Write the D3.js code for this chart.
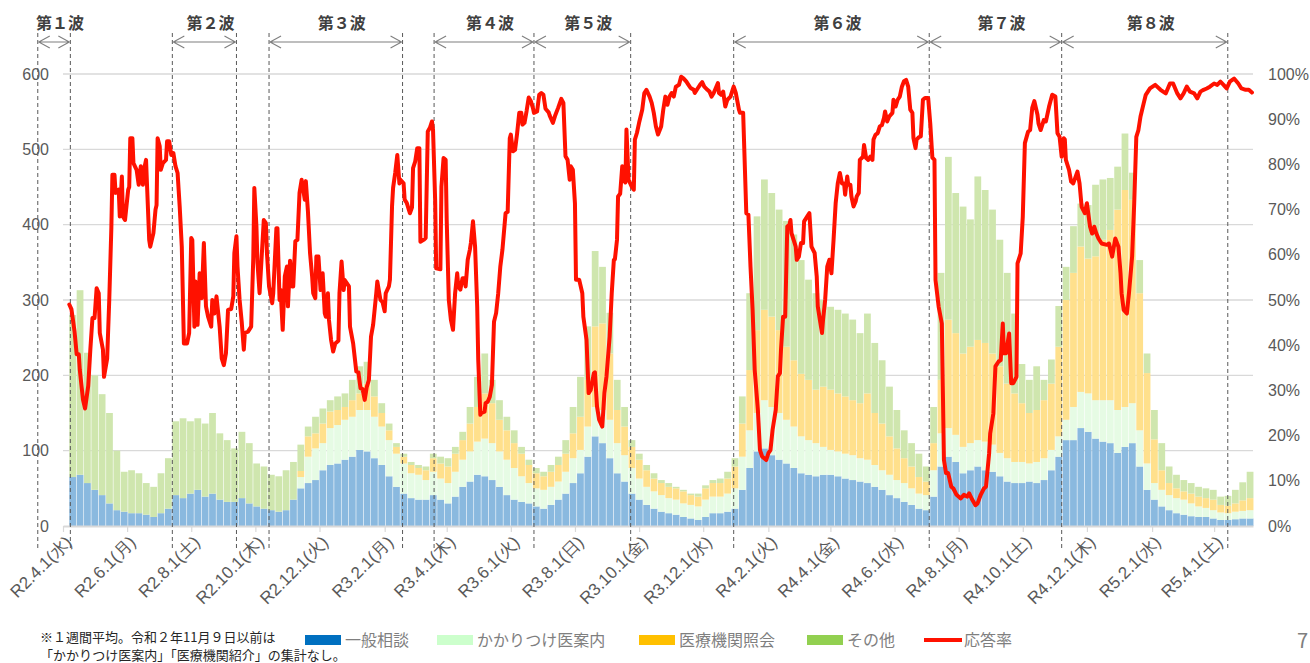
<!DOCTYPE html>
<html>
<head>
<meta charset="utf-8">
<script src="https://cdn.jsdelivr.net/npm/d3@7"></script>
<style>
  body { margin: 0; background: #fff; }
  svg { display: block; font-family: "Noto Sans CJK JP", "Noto Sans", sans-serif; }
</style>
</head>
<body>
<svg id="chart" width="1310" height="663"></svg>
<script>
// ---- data -------------------------------------------------------------
// weekly bars (1-week averages), first week starting 2020-04-07
const firstWeek = "2020-04-07";

const general = [
  65,68,57,48,41,30,21,19,17,17,15,12,17,23,41,37,43,48,39,43,35,32,32,37,30,26,23,21,19,21,35,
  50,57,61,74,81,83,88,92,101,99,
  90,81,66,52,43,37,35,35,41,35,
  30,39,52,59,68,66,61,52,41,35,
  32,30,26,23,28,35,43,57,70,92,
  119,110,90,70,59,43,35,28,23,19,
  17,15,12,10,8,12,17,17,19,23,
  48,77,99,103,94,88,83,77,70,68,
  66,68,68,66,63,61,59,57,52,48,
  41,37,32,28,23,21,39,79,92,85,
  70,74,79,74,72,66,59,57,57,59,
  57,61,74,92,114,114,130,125,116,112,
  110,97,105,110,79,48,35,26,21,17,
  15,13,12,12,10,8,8,9,10,10
];

const gpGuide = [
  0,0,0,0,0,0,0,0,0,0,0,0,0,0,0,0,0,0,0,0,0,0,0,0,0,0,0,0,0,0,0,
  15,35,42,36,49,51,53,53,53,55,
  55,51,48,44,40,33,33,26,31,28,
  27,33,36,40,44,50,49,47,47,42,
  34,27,24,25,24,24,29,33,31,40,
  39,44,51,40,35,34,28,24,23,22,
  20,20,18,18,18,23,22,22,24,27,
  44,50,51,64,64,62,58,55,49,46,
  44,37,33,33,33,33,31,31,29,26,
  27,24,25,22,20,20,35,44,38,36,
  35,36,35,38,36,31,31,28,28,24,
  28,29,27,27,27,44,48,51,51,55,
  57,57,53,53,48,35,22,22,20,20,
  20,17,14,12,11,10,9,10,10,11
];

const hospital = [
  0,0,0,0,0,0,0,0,0,0,0,0,0,0,0,0,0,0,0,0,0,0,0,0,0,0,0,0,0,0,0,
  8,27,20,26,22,20,17,22,22,35,
  27,18,13,9,9,11,9,13,18,20,
  22,24,26,37,46,60,53,42,39,33,
  30,24,20,18,20,22,24,33,44,62,
  107,115,88,44,38,28,25,22,17,16,
  15,15,16,13,13,15,18,18,20,29,
  44,80,110,120,120,110,97,88,83,80,
  71,80,80,77,76,73,73,88,69,62,
  51,42,33,29,22,18,36,71,144,135,
  124,128,133,131,121,115,99,91,78,67,
  69,77,88,119,159,178,193,179,191,213,
  226,266,288,270,182,120,58,26,16,13,
  11,13,13,13,14,10,10,11,14,16
];

const other = [
  215,245,173,152,134,120,79,53,57,53,42,40,53,67,98,106,96,95,97,107,88,82,71,88,80,57,56,47,47,53,50,
  35,13,22,20,15,18,18,27,36,29,
  22,13,9,5,4,4,4,5,6,9,
  11,9,11,22,40,53,31,26,18,17,
  9,7,7,6,9,11,18,35,53,71,
  100,75,54,40,26,9,8,7,7,4,
  5,2,2,2,4,4,4,6,9,11,
  36,102,151,173,164,160,167,167,151,133,
  128,115,110,111,110,107,93,106,93,84,
  66,51,37,31,31,20,48,142,216,186,
  195,169,217,203,191,168,147,106,52,44,
  58,27,32,54,44,62,57,71,95,80,
  69,57,75,36,44,26,39,36,22,18,
  15,14,13,13,13,11,13,18,24,35
];

// answer rate (%), as [days since 2020-04-01, rate]
const answerRate = [
  [6,49],[8,48],[11,43],[13,38],[15,38],[16,34.5],[19,28],[21,26],[24,31],[26,39],
  [28,46],[30,46],[32,52.6],[34,51.5],[35,42.7],[38,39],[39,33],[42,37],[44,50],[46,66],
  [47,77.7],[49,77.7],[50,73.7],[53,74.4],[54,68.5],[56,77.3],[57,68.5],[59,67.7],[62,74.4],[63,75],
  [64,85.8],[66,85.8],[67,80.3],[70,78.8],[72,75.5],[74,79.6],[76,75.5],[77,78.8],[79,81],[80,75],
  [82,63.3],[83,61.8],[86,64.8],[88,70],[89,71],[90,85.8],[92,84],[93,78.8],[95,80.3],[98,81],
  [99,85.1],[101,85.1],[103,82.1],[105,82.5],[107,79.6],[109,78.1],[111,70.7],[113,61.8],[115,40.4],[118,40.4],
  [120,42.7],[122,63.7],[123,63.3],[125,44.1],[126,54.1],[128,44.5],[130,55.9],[132,50.4],[134,62.6],[136,48.6],
  [138,46.3],[141,44.1],[142,50],[144,47],[146,50.8],[149,44.1],[151,37.1],[153,35.6],[155,38.2],[157,47.8],
  [160,48],[162,50.8],[163,60.4],[165,64.1],[166,57.4],[168,50],[170,45.2],[172,39],[173,42.7],[176,43],
  [179,44.1],[181,59.3],[182,74.8],[184,66.3],[185,58.2],[187,51.5],[189,59.6],[191,67.7],[193,67],[194,60.4],
  [196,53],[199,49.3],[200,51.5],[203,65.9],[204,65.9],[206,50],[207,52.2],[209,43.4],[211,55.2],[213,57.4],
  [214,48.6],[216,58.7],[218,53],[219,53],[221,63],[223,63.3],[225,73.7],[227,76.6],[230,72.2],[231,76.3],
  [233,69.6],[235,60.4],[237,55.2],[238,51.5],[240,50.4],[241,59.6],[243,59.6],[245,52.2],[247,55.9],[249,47.1],
  [250,46.3],[252,51.5],[253,45.6],[255,41.2],[257,38.6],[259,40.4],[262,41],[263,51.5],[265,58.5],[267,52.2],
  [268,54.4],[272,53],[273,44.1],[276,40.4],[279,34.2],[281,34],[283,30.5],[285,30.3],[287,27.9],[289,30.8],
  [291,32.3],[293,41.9],[295,44.5],[298,51.5],[299,54.1],[302,50],[304,49.5],[306,47.5],[307,51.5],[310,53],
  [311,54.5],[313,70.7],[314,74.8],[316,78.1],[318,82.1],[320,75.8],[321,76.6],[324,75.8],[325,72.2],[327,71.5],
  [330,69.2],[332,70.5],[333,79.2],[335,80.6],[337,83.6],[339,83.6],[340,62.9],[343,63.3],[345,63.7],[347,87.3],
  [349,88.1],[351,89.5],[352,87.6],[354,72.2],[355,57],[359,56.8],[360,75.1],[362,81.4],[364,81],[365,67.7],
  [367,50],[369,45.6],[371,43.4],[373,51.5],[375,55.9],[376,53],[378,52.3],[380,54.8],[382,54.8],[383,53],
  [385,58.9],[387,61.1],[388,62.6],[390,67.4],[392,61.8],[394,48.6],[395,36.8],[397,24.6],[398,25],[401,25.3],
  [402,27.2],[404,27.5],[406,28.6],[408,31.2],[410,45.2],[412,47.1],[414,51.5],[416,57.4],[418,61.1],[421,69.2],
  [423,69.5],[425,85.8],[426,86.6],[428,82.9],[430,83.2],[432,86.9],[434,91.4],[436,91.4],[437,88.8],[439,89.2],
  [441,91.8],[443,94.8],[445,94],[447,92.5],[448,91.4],[451,91.7],[453,95.4],[455,95.8],[457,95.4],[459,92.3],
  [462,91.5],[463,90.8],[466,89.2],[468,90.7],[471,92.5],[474,94.5],[476,93.6],[478,81.8],[480,81],[482,76.6],
  [483,79.6],[485,78.8],[487,71.4],[488,54.5],[491,54.5],[494,51.5],[495,46.3],[498,41.2],[500,29.4],[502,30.1],
  [505,33.8],[506,34],[508,26.4],[510,23.5],[513,22],[515,29.4],[517,33.1],[520,41.9],[522,51.5],[524,58.9],
  [525,59],[527,63.3],[528,72.9],[530,73.5],[532,79.6],[533,76.6],[535,76],[536,87.7],[538,76.6],[541,75.1],
  [543,74.4],[544,85.5],[546,87],[548,89.2],[551,92.1],[553,95.8],[555,96.5],[558,95],[560,93.6],[562,91.4],
  [564,88.4],[566,86.6],[569,88.4],[571,92.1],[573,95],[575,93.2],[577,95],[579,95.8],[581,95],[583,97.2],
  [586,97.6],[588,99.4],[590,99.1],[593,98.3],[595,97.6],[597,96.9],[600,96.5],[601,95.8],[604,96.9],[606,97.6],
  [608,98.2],[610,97.2],[613,96.5],[615,96.1],[617,95],[619,95.8],[621,96.9],[623,98],[624,95.8],[626,95.4],
  [628,96.1],[630,92.8],[632,94.3],[635,95],[637,96.5],[638,97.2],[640,95.8],[643,92.1],[644,91.4],[647,91.4],
  [650,69.2],[652,68.9],[654,57.4],[656,47.8],[658,34.5],[661,25.7],[663,16.8],[665,15.4],[667,15],[669,14.6],
  [671,16.1],[673,16.8],[675,21.3],[678,25.7],[680,33.1],[682,33.8],[683,39],[685,46.3],[687,46.3],[689,66.3],
  [691,66.6],[692,67.7],[693,64.8],[695,63.3],[697,61.8],[698,58.9],[700,59.6],[702,62.6],[704,62.6],[705,67.4],
  [708,68.5],[710,69.2],[712,61.8],[715,60.4],[717,55.2],[718,48.6],[720,45.6],[722,42.7],[723,45.6],[725,50],
  [727,57.4],[729,58.9],[731,55.9],[733,63.3],[735,71.4],[737,75.8],[739,78.1],[741,75.8],[743,75.8],[744,73.3],
  [746,77.3],[747,75.5],[749,75.5],[750,72.9],[752,70.7],[754,71.8],[755,72.9],[757,73.7],[758,81],[761,81.7],
  [762,84.3],[764,81.4],[766,81],[768,81.7],[770,81],[771,85.5],[773,86.6],[775,86.9],[777,88.4],[779,88.7],
  [781,90.3],[782,91.7],[784,89.5],[786,90.6],[789,91.4],[790,94.3],[792,92.8],[794,94.3],[796,95],[798,97.2],
  [800,98.4],[802,98.7],[804,97.2],[806,92.1],[808,91.4],[809,85.8],[811,83.6],[812,85.5],[814,86],[816,86.2],
  [818,94.3],[820,94.7],[823,94.7],[825,89],[827,81.5],[829,81],[830,54.4],[833,48.5],[836,44.8],[838,14.6],
  [840,11.7],[842,11.7],[845,8.7],[847,8.3],[850,6.9],[854,6.1],[857,6.9],[860,6.5],[862,7.2],[865,5.8],
  [868,4.6],[870,5],[873,6.9],[876,8.3],[878,8.7],[881,16.1],[882,20.5],[885,24.9],[887,35.3],[890,36.4],
  [892,36.7],[894,44.8],[895,38.2],[897,38.2],[900,42.6],[902,31.6],[904,31.6],[907,33],[908,58.1],[911,60.3],
  [913,68.4],[915,84.7],[918,87.2],[920,87.6],[922,92.5],[924,94],[927,91],[928,89],[930,87.6],[933,89.8],
  [935,89.5],[938,92.8],[941,95.4],[944,95],[946,86.9],[948,86.1],[950,81.7],[952,85.8],[953,85.5],[954,81],
  [957,78.8],[959,76.2],[961,75.8],[965,78.4],[967,75.8],[969,70.6],[972,69.2],[974,71.4],[977,66.2],[979,64.7],
  [981,66.2],[983,64.7],[985,63.6],[988,62.5],[993,62.2],[995,62.5],[998,59.6],[1001,63.6],[1004,61.8],[1006,55.9],
  [1007,51.5],[1009,47.8],[1012,47],[1014,51.5],[1017,59.6],[1019,71.4],[1021,86.1],[1023,87.6],[1025,90.6],[1028,93.5],
  [1030,95.4],[1034,96.8],[1039,97.6],[1044,96.5],[1049,95.7],[1053,97.9],[1056,97.9],[1060,95.7],[1063,94.6],[1066,95.7],
  [1069,97.2],[1072,96.1],[1076,95.7],[1079,94.6],[1082,96.1],[1085,96.5],[1088,96.8],[1091,97.2],[1095,97.9],[1098,97.6],
  [1101,98.3],[1104,97.6],[1107,96.8],[1110,98.3],[1114,99],[1118,97.9],[1121,96.8],[1125,96.5],[1128,96.5],[1131,95.9]
];

const seriesNames = ["一般相談", "かかりつけ医案内", "医療機関照会", "その他"];
const rateName = "応答率";
const leftTicks = [0, 100, 200, 300, 400, 500, 600];
const rightTicks = [0, 10, 20, 30, 40, 50, 60, 70, 80, 90, 100];
const tickLabels = ["R2.4.1(水)", "R2.6.1(月)", "R2.8.1(土)", "R2.10.1(木)", "R2.12.1(火)", "R3.2.1(月)",
  "R3.4.1(木)", "R3.6.1(火)", "R3.8.1(日)", "R3.10.1(金)", "R3.12.1(水)", "R4.2.1(火)", "R4.4.1(金)",
  "R4.6.1(水)", "R4.8.1(月)", "R4.10.1(土)", "R4.12.1(木)", "R5.2.1(水)", "R5.4.1(土)"];

const waveNames = ["第１波", "第２波", "第３波", "第４波", "第５波", "第６波", "第７波", "第８波"];
const waveStart = ["2020-03-08", "2020-07-14", "2020-10-14", "2021-03-20", "2021-06-23", "2021-12-30", "2022-07-04", "2022-11-07"];
const waveEnd   = ["2020-04-08", "2020-09-13", "2021-02-18", "2021-06-23", "2021-09-23", "2022-07-04", "2022-11-07", "2023-04-14"];

const noteLines = ["※１週間平均。令和２年11月９日以前は", "「かかりつけ医案内」「医療機関紹介」の集計なし。"];

// ---- layout ------------------------------------------------------------
const svg = d3.select("#chart");
const plot = { left: 63, right: 1253, top: 74, bottom: 526 };
const parse = d3.timeParse("%Y-%m-%d");
const origin = new Date(2020, 3, 1);
const dayDate = d => d3.timeDay.offset(origin, d);

const x = d3.scaleTime()
  .domain([origin, new Date(2023, 4, 8)])
  .range([plot.left, plot.right]);
const yL = d3.scaleLinear().domain([0, 600]).range([plot.bottom, plot.top]);
const yR = d3.scaleLinear().domain([0, 100]).range([plot.bottom, plot.top]);

const fills = ["#8ab9df", "#e6fbe4", "#ffe08c", "#cfe6ae"];
const swatch = ["#0070c0", "#ccffcc", "#ffc000", "#92d050"];
const textGray = "#595959";

// gridlines
svg.append("g").selectAll("line").data(leftTicks.slice(1)).join("line")
  .attr("x1", plot.left).attr("x2", plot.right)
  .attr("y1", d => yL(d)).attr("y2", d => yL(d))
  .attr("stroke", "#d9d9d9").attr("stroke-width", 1.3);

// stacked weekly bars
const start = parse(firstWeek);
const rows = general.map((g, i) => ({
  date: d3.timeDay.offset(start, 7 * i),
  general: g, gp: gpGuide[i] || 0, hosp: hospital[i] || 0, other: other[i] || 0
}));
const layers = d3.stack().keys(["general", "gp", "hosp", "other"])(rows);
const barG = svg.append("g");
layers.forEach((layer, k) => {
  barG.append("g").attr("fill", fills[k]).selectAll("rect").data(layer).join("rect")
    .attr("x", d => x(d.data.date))
    .attr("width", d => Math.max(0, x(d3.timeDay.offset(d.data.date, 7)) - x(d.data.date) - 0.6))
    .attr("y", d => yL(d[1]))
    .attr("height", d => Math.max(0, yL(d[0]) - yL(d[1])));
});

// x axis
const tickDates = d3.timeMonth.range(origin, new Date(2023, 4, 2), 2);
const xAxis = svg.append("g")
  .attr("transform", `translate(0,${plot.bottom})`)
  .call(d3.axisBottom(x).tickValues(tickDates).tickSize(6).tickSizeOuter(0)
    .tickFormat((d, i) => tickLabels[i]));
xAxis.select(".domain").attr("stroke", "#d9d9d9").attr("stroke-width", 2);
xAxis.selectAll(".tick line").attr("stroke", "#d9d9d9").attr("stroke-width", 1.2);
xAxis.selectAll(".tick text")
  .attr("fill", textGray).attr("font-size", 17)
  .attr("text-anchor", "end")
  .attr("transform", "translate(5,13) rotate(-45)")
  .attr("x", 0).attr("y", 0).attr("dy", "0.35em");

// left axis
const lAxis = svg.append("g").attr("transform", `translate(${plot.left},0)`)
  .call(d3.axisLeft(yL).tickValues(leftTicks).tickSize(0).tickPadding(14));
lAxis.select(".domain").remove();
lAxis.selectAll("text").attr("fill", textGray).attr("font-size", 16);

// right axis
const rAxis = svg.append("g").attr("transform", `translate(${plot.right},0)`)
  .call(d3.axisRight(yR).tickValues(rightTicks).tickSize(0).tickPadding(15).tickFormat(d => d + "%"));
rAxis.select(".domain").remove();
rAxis.selectAll("text").attr("fill", textGray).attr("font-size", 16);

// wave boundaries
const bounds = Array.from(new Set(waveStart.concat(waveEnd))).map(parse);
svg.append("g").selectAll("line").data(bounds).join("line")
  .attr("x1", d => x(d)).attr("x2", d => x(d))
  .attr("y1", 33).attr("y2", 550)
  .attr("stroke", "#595959").attr("stroke-width", 1).attr("stroke-dasharray", "4,3");

// wave arrows and titles
const waveG = svg.append("g");
waveNames.forEach((name, i) => {
  const x0 = x(parse(waveStart[i])), x1 = x(parse(waveEnd[i]));
  const ay = 42, head = 11, half = 6;
  waveG.append("path")
    .attr("d", `M${x0 + 1},${ay}H${x1 - 1}` +
      `M${x0 + 1 + head},${ay - half}L${x0 + 1},${ay}L${x0 + 1 + head},${ay + half}` +
      `M${x1 - 1 - head},${ay - half}L${x1 - 1},${ay}L${x1 - 1 - head},${ay + half}`)
    .attr("fill", "none").attr("stroke", "#7f7f7f").attr("stroke-width", 1.1);
  waveG.append("text")
    .attr("x", (x0 + x1) / 2 + 6).attr("y", 29)
    .attr("text-anchor", "middle").attr("font-size", 16).attr("font-weight", "bold")
    .attr("fill", "#404040").text(name);
});

// answer-rate line
svg.append("path")
  .datum(answerRate)
  .attr("d", d3.line().x(d => x(dayDate(d[0]))).y(d => yR(d[1])))
  .attr("fill", "none").attr("stroke", "#ff1100").attr("stroke-width", 4)
  .attr("stroke-linejoin", "round").attr("stroke-linecap", "round");

// footnote
svg.append("g").selectAll("text").data(noteLines).join("text")
  .attr("x", 40).attr("y", (d, i) => 642 + i * 18)
  .attr("font-size", 13).attr("fill", "#262626").text(d => d);

// legend
const legX = [305, 437, 639, 807];
const leg = svg.append("g");
seriesNames.forEach((n, i) => {
  leg.append("rect").attr("x", legX[i]).attr("y", 635).attr("width", 36).attr("height", 10).attr("fill", swatch[i]);
  leg.append("text").attr("x", legX[i] + 40).attr("y", 646).attr("font-size", 16).attr("fill", "#7f7f7f").text(n);
});
leg.append("line").attr("x1", 924).attr("x2", 962).attr("y1", 640).attr("y2", 640)
  .attr("stroke", "#ff1100").attr("stroke-width", 4);
leg.append("text").attr("x", 964).attr("y", 646).attr("font-size", 16).attr("fill", "#7f7f7f").text(rateName);

// page number
svg.append("text").attr("x", 1297).attr("y", 648).attr("font-size", 20).attr("fill", "#7f7f7f").text("7");
</script>
</body>
</html>
